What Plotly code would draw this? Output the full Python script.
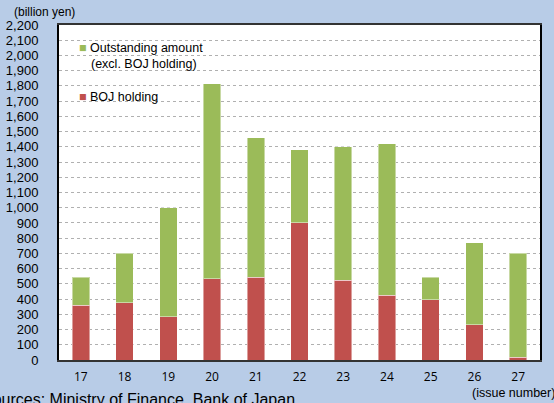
import plotly.graph_objects as go

issues = ["17", "18", "19", "20", "21", "22", "23", "24", "25", "26", "27"]
boj_holding = [360, 375, 285, 535, 545, 900, 525, 425, 395, 230, 18]
total_outstanding = [545, 700, 1000, 1815, 1460, 1380, 1400, 1420, 545, 770, 700]
outstanding_excl_boj = [t - b for t, b in zip(total_outstanding, boj_holding)]
y_ticks = list(range(0, 2201, 100))

GREEN = "#9BBB59"
RED = "#C0504D"
FONT = "Liberation Sans, Arial, sans-serif"

W, H = 554, 403
L, R, T, B = 59, 14, 25, 43
pw, ph = W - L - R, H - T - B
def px(xp):
    return (xp - L) / pw
def py(yp):
    return (H - B - yp) / ph

fig = go.Figure()
fig.add_trace(go.Bar(
    x=issues, y=boj_holding, name="BOJ holding",
    marker=dict(color=RED, line=dict(color="rgba(255,255,255,0.45)", width=1)),
))
fig.add_trace(go.Bar(
    x=issues, y=outstanding_excl_boj, name="Outstanding amount (excl. BOJ holding)",
    marker=dict(color=GREEN, line=dict(color="rgba(255,255,255,0.45)", width=1)),
))

def legend_item(y, color, text):
    return dict(
        text=f"<span style='color:{color}'>■</span> {text}",
        x=px(77), y=py(y), xref="paper", yref="paper",
        xanchor="left", yanchor="middle", align="left", showarrow=False,
        font=dict(size=12.5, family=FONT),
    )

fig.update_layout(
    barmode="stack",
    bargap=0.6,
    width=W, height=H,
    margin=dict(l=L, r=R, t=T, b=B, autoexpand=False),
    paper_bgcolor="#B8CCE7",
    plot_bgcolor="white",
    font=dict(family=FONT, color="black"),
    showlegend=False,
    xaxis=dict(
        type="category", automargin=False,
        showline=True, linecolor="#333333", linewidth=2, mirror=True,
        ticks="", tickfont=dict(size=12, family="Open Sans, sans-serif"),
        ticklabelstandoff=5,
    ),
    yaxis=dict(
        range=[0, 2200], tickvals=y_ticks, tickformat=",", automargin=False,
        showline=True, linecolor="black", linewidth=2, mirror=True,
        showgrid=True, gridcolor="#B0B0B0", gridwidth=1, griddash="dot",
        zeroline=False, ticks="", tickfont=dict(size=13, family=FONT),
        ticklabelstandoff=16,
    ),
    annotations=[
        dict(text="(billion yen)", x=px(12), y=py(12), xref="paper", yref="paper",
             xanchor="left", yanchor="middle", showarrow=False,
             font=dict(size=12, family=FONT)),
        dict(text="(issue number)", x=px(557), y=py(393), xref="paper", yref="paper",
             xanchor="right", yanchor="middle", showarrow=False,
             font=dict(size=12.5, family=FONT)),
        dict(text="Sources: Ministry of Finance, Bank of Japan", x=px(-20), y=py(399),
             xref="paper", yref="paper", xanchor="left", yanchor="middle",
             showarrow=False, font=dict(size=16, family=FONT)),
        legend_item(48, GREEN, "Outstanding amount"),
        dict(text="(excl. BOJ holding)", x=px(89), y=py(64), xref="paper", yref="paper",
             xanchor="left", yanchor="middle", showarrow=False,
             font=dict(size=12.5, family=FONT)),
        legend_item(97, RED, "BOJ holding"),
    ],
)

fig.write_html(
    "out.html",
    config={"displayModeBar": False},
    post_script="document.body.style.margin='0';document.body.style.overflow='hidden';",
)
